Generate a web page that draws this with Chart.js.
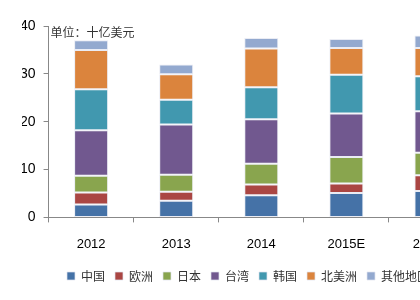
<!DOCTYPE html>
<html>
<head>
<meta charset="utf-8">
<script src="https://cdn.jsdelivr.net/npm/chart.js@4.4.0/dist/chart.umd.min.js"></script>
<style>
  html, body { margin: 0; padding: 0; background: #fff; overflow: hidden; }
  #wrap { width: 522px; height: 300px; position: relative; }
</style>
</head>
<body>
<div id="wrap"><canvas id="grafico"></canvas></div>
<script>
// años (el gráfico original está recortado a la derecha)
const anios = ["2012", "2013", "2014", "2015E", "2016E"];
const yTicks = [0, 10, 20, 30, 40];

// valores por región, en miles de millones de USD
const china      = [2.7, 3.5, 4.65, 5.1, 5.5];
const europa     = [2.5, 1.85, 2.25, 2.0, 3.3];
const japon      = [3.5, 3.55, 4.3, 5.5, 4.7];
const taiwan     = [9.5, 10.5, 9.3, 9.1, 8.7];
const corea      = [8.6, 5.2, 6.7, 8.1, 7.3];
const norteam    = [8.2, 5.3, 8.1, 5.6, 5.9];
const otros      = [2.0, 2.05, 2.2, 1.9, 2.6];

const nombres = ["中国", "欧洲", "日本", "台湾", "韩国", "北美洲", "其他地区"];
const series  = [china, europa, japon, taiwan, corea, norteam, otros];
const colores = ["#4572A7", "#AA4643", "#89A54E", "#71588F", "#4198AF", "#DB843D", "#93A9CF"];

const datasets = [];
for (let i = 0; i < series.length; i++) {
    datasets.push({
        label: nombres[i],
        data: series[i],
        backgroundColor: colores[i],
        borderColor: "rgba(225,228,240,0.7)",
        borderWidth: 1,
        borderSkipped: false,
        categoryPercentage: 1,
        barPercentage: 0.4
    });
}

// texto de unidad dentro del área
const unidad = {
    id: "unidad",
    afterDraw(chart) {
        const ctx = chart.ctx;
        ctx.save();
        ctx.font = "12px 'Noto Sans CJK SC'";
        ctx.fillStyle = "#333";
        ctx.textBaseline = "middle";
        ctx.fillText("单位：十亿美元", chart.chartArea.left + 2, chart.chartArea.top + 6);
        ctx.restore();
    }
};

new Chart(document.getElementById("grafico").getContext("2d"), {
    type: "bar",
    data: { labels: anios, datasets: datasets },
    plugins: [unidad],
    options: {
        responsive: true,
        maintainAspectRatio: false,
        animation: false,
        layout: { padding: { left: 22, right: 48, top: 26, bottom: 8 } },
        scales: {
            x: {
                stacked: true,
                afterFit: (s) => { s.height -= 6; },
                grid: { display: true, offset: true, drawOnChartArea: false, drawTicks: true, tickLength: 5, color: "#888" },
                border: { color: "#888" },
                ticks: { color: "#000", font: { family: "Arial, 'Liberation Sans'", size: 13 }, padding: 14 }
            },
            y: {
                stacked: true,
                min: 0,
                max: 40,
                afterFit: (s) => { s.width -= 10; },
                afterBuildTicks: (s) => { s.ticks = yTicks.map(v => ({ value: v })); },
                grid: { drawOnChartArea: false, drawTicks: true, tickLength: 5, color: "#888" },
                border: { color: "#888" },
                ticks: { color: "#000", font: { family: "Arial, 'Liberation Sans'", size: 14 }, padding: 8 }
            }
        },
        plugins: {
            tooltip: { enabled: false },
            legend: {
                position: "bottom",
                labels: {
                    boxWidth: 8,
                    boxHeight: 8,
                    padding: 10,
                    color: "#333",
                    font: { family: "'Noto Sans CJK SC'", size: 12 }
                }
            }
        }
    }
});
</script>
</body>
</html>
